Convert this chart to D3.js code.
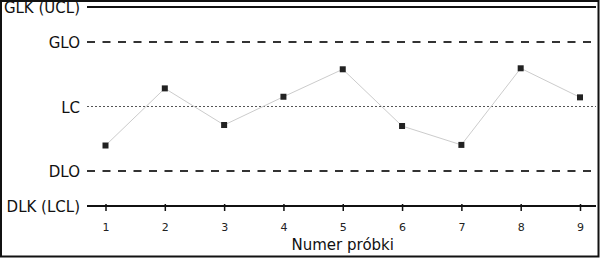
<!DOCTYPE html>
<html>
<head>
<meta charset="utf-8">
<script src="https://cdn.jsdelivr.net/npm/d3@7"></script>
<style>
  html, body { margin: 0; padding: 0; background: #fff; }
  svg { display: block; }
</style>
</head>
<body>
<svg id="chart" width="600" height="258"></svg>
<script>
// ---- data ----
const samples = [1, 2, 3, 4, 5, 6, 7, 8, 9];
const values = [30.4, 59.1, 40.7, 54.9, 68.7, 40.2, 30.7, 69.2, 54.6];
const limitNames = ["GLK (UCL)", "GLO", "LC", "DLO", "DLK (LCL)"];
const limitValues = [100, 82.4, 50, 17.6, 0];
const xTickLabels = ["1", "2", "3", "4", "5", "6", "7", "8", "9"];
const xTitle = "Numer próbki";

// ---- layout ----
const W = 600, H = 258;
const lineX0 = 87, lineX1 = 596;
const labelX = 80;
const font = "'DejaVu Sans', Verdana, sans-serif";

const svg = d3.select("#chart");

const x = d3.scaleLinear().domain([1, 9]).range([105.5, 580]);
const y = d3.scaleLinear().domain([0, 100]).range([206, 7]);

// frame
svg.append("rect")
  .attr("x", 1).attr("y", 1).attr("width", W - 2.5).attr("height", H - 2.5)
  .attr("fill", "none").attr("stroke", "#111").attr("stroke-width", 2);

const limitStyles = {
  "GLK (UCL)": { stroke: "#111", width: 2, dash: null },
  "GLO": { stroke: "#333", width: 2, dash: "8,7.5" },
  "LC": { stroke: "#555", width: 1, dash: "2,2" },
  "DLO": { stroke: "#333", width: 2, dash: "8,7.5" },
  "DLK (LCL)": { stroke: "#111", width: 2, dash: null }
};

const limits = limitNames.map((n, i) => ({ name: n, value: limitValues[i] }));

const lg = svg.append("g");
lg.selectAll("line").data(limits).join("line")
  .attr("x1", lineX0).attr("x2", lineX1)
  .attr("y1", d => y(d.value)).attr("y2", d => y(d.value))
  .attr("stroke", d => limitStyles[d.name].stroke)
  .attr("stroke-width", d => limitStyles[d.name].width)
  .attr("stroke-dasharray", d => limitStyles[d.name].dash);

lg.selectAll("text").data(limits).join("text")
  .attr("x", labelX).attr("y", d => y(d.value))
  .attr("dy", "0.42em")
  .attr("text-anchor", "end")
  .attr("font-family", font).attr("font-size", 15)
  .attr("fill", "#111")
  .text(d => d.name);

// x axis (ticks only; baseline drawn as LCL line)
const axis = d3.axisBottom(x)
  .tickValues(samples)
  .tickFormat((d, i) => xTickLabels[i])
  .tickSize(5).tickPadding(6);
const ag = svg.append("g").attr("transform", `translate(0,${y(0)})`).call(axis);
ag.select(".domain").remove();
ag.selectAll(".tick line").attr("y1", -2).attr("y2", 5).attr("stroke", "#111").attr("stroke-width", 1.5);
ag.selectAll(".tick text")
  .attr("font-family", font).attr("font-size", 11).attr("fill", "#222")
  .attr("y", 25).attr("dy", 0);

svg.append("text")
  .attr("x", (x.range()[0] + x.range()[1]) / 2)
  .attr("y", 250)
  .attr("text-anchor", "middle")
  .attr("font-family", font).attr("font-size", 15)
  .attr("fill", "#111")
  .text(xTitle);

// series line
const pts = samples.map((s, i) => ({ s, v: values[i] }));
svg.append("path")
  .datum(pts)
  .attr("fill", "none").attr("stroke", "#ccc").attr("stroke-width", 1)
  .attr("d", d3.line().x(d => x(d.s)).y(d => y(d.v)));

// markers
const m = 6;
svg.selectAll("rect.pt").data(pts).join("rect")
  .attr("class", "pt")
  .attr("x", d => x(d.s) - m / 2).attr("y", d => y(d.v) - m / 2)
  .attr("width", m).attr("height", m)
  .attr("fill", "#222");
</script>
</body>
</html>
